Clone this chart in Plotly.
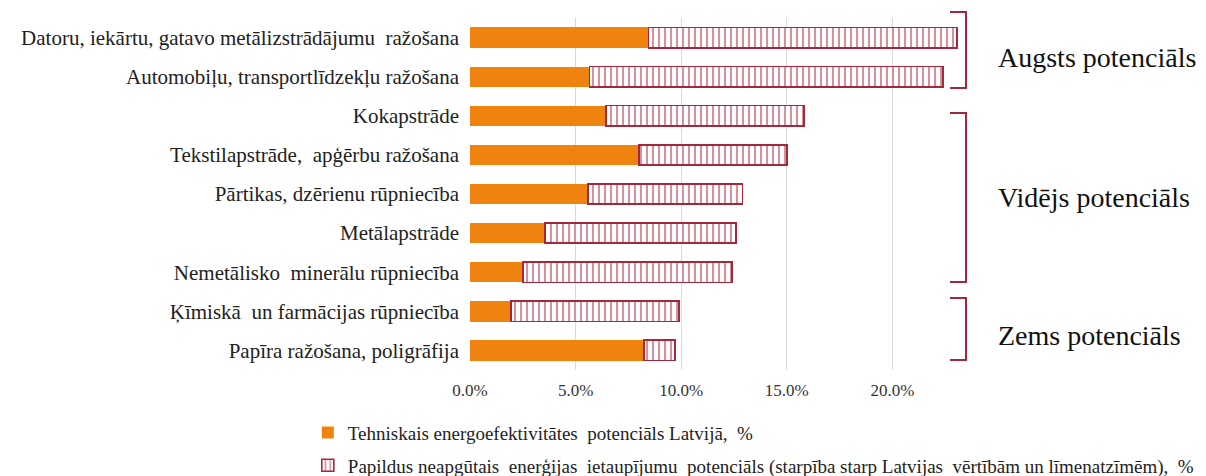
import plotly.graph_objects as go

# Nozares (no augšas uz leju)
nozares = [
    "Datoru, iekārtu, gatavo metālizstrādājumu\u00a0 ražošana",
    "Automobiļu, transportlīdzekļu ražošana",
    "Kokapstrāde",
    "Tekstilapstrāde,\u00a0 apģērbu ražošana",
    "Pārtikas, dzērienu rūpniecība",
    "Metālapstrāde",
    "Nemetālisko\u00a0 minerālu rūpniecība",
    "Ķīmiskā\u00a0 un farmācijas rūpniecība",
    "Papīra ražošana, poligrāfija",
]
tehniskais = [8.45, 5.65, 6.45, 8.0, 5.6, 3.55, 2.5, 1.95, 8.25]
papildus = [14.6, 16.75, 9.35, 7.0, 7.3, 9.05, 9.9, 7.95, 1.45]

grupas = ["Augsts potenciāls", "Vidējs potenciāls", "Zems potenciāls"]

ORANGE = "#F0820F"
RED = "#A3283C"
FONT = "Liberation Serif"

fig = go.Figure()
fig.add_trace(go.Bar(
    y=nozares, x=tehniskais, orientation="h",
    name="Tehniskais energoefektivitātes\u00a0 potenciāls Latvijā,\u00a0 %",
    marker=dict(color=ORANGE, line=dict(width=0)),
    legendgroup="a",
))
fig.add_trace(go.Bar(
    y=nozares, x=papildus, orientation="h",
    name="Papildus neapgūtais\u00a0 enerģijas\u00a0 ietaupījumu\u00a0 potenciāls (starpība starp Latvijas\u00a0 vērtībām un līmenatzīmēm),\u00a0 %",
    marker=dict(color="white", line=dict(color=RED, width=1.6),
                pattern=dict(shape="|", fgcolor=RED, bgcolor="white", size=6, solidity=0.35)),
    legendgroup="b",
))

# lapas body atkāpe ir 8px, tāpēc figūra ir 8px mazāka
fig.update_layout(
    barmode="stack",
    bargap=0.48,
    showlegend=True,
    width=1198, height=468,
    margin=dict(l=462, r=246, t=10, b=106, autoexpand=False),
    paper_bgcolor="white", plot_bgcolor="white",
    font=dict(family=FONT, color="#222222"),
    legend=dict(x=-0.331, y=-0.124, xanchor="left", yanchor="top",
                traceorder="grouped", tracegroupgap=5,
                font=dict(size=19, family=FONT), bgcolor="rgba(0,0,0,0)"),
)
fig.update_xaxes(range=[0, 23.2], tickvals=[0, 5, 10, 15, 20],
                 ticktext=["0.0%", "5.0%", "10.0%", "15.0%", "20.0%"],
                 showgrid=True, gridcolor="#D9D9D9", gridwidth=1,
                 zeroline=False, showline=False,
                 ticks="outside", ticklen=5, tickcolor="rgba(0,0,0,0)",
                 tickfont=dict(size=17, family=FONT, color="#333333"))
fig.update_yaxes(categoryorder="array", categoryarray=nozares[::-1],
                 showgrid=False, showline=False, ticks="",
                 ticklabelstandoff=10,
                 tickfont=dict(size=21, family=FONT, color="#222222"))

# iekavas pa labi (paper koordinātās, pikseļi attiecībā pret zīmēšanas laukumu)
def yfrac(py):
    return 1 - py / 352

brackets = [(-6, 70), (95, 264), (280, 342)]
label_shift = [7, 0, 6]
for (y0, y1), label, dy in zip(brackets, grupas, label_shift):
    xa = 1 + (950 - 960) / 490
    xb = 1 + (966 - 960) / 490
    fig.add_shape(type="path", xref="paper", yref="paper",
                  path=f"M {xa},{yfrac(y0)} L {xb},{yfrac(y0)} L {xb},{yfrac(y1)} L {xa},{yfrac(y1)}",
                  line=dict(color=RED, width=2))
    fig.add_annotation(xref="paper", yref="paper", x=1 + (996 - 960) / 490,
                       y=yfrac((y0 + y1) / 2 + dy),
                       text=label, showarrow=False, xanchor="left", yanchor="middle",
                       font=dict(size=28, family=FONT, color="#111111"))

fig.write_html("out.html")
